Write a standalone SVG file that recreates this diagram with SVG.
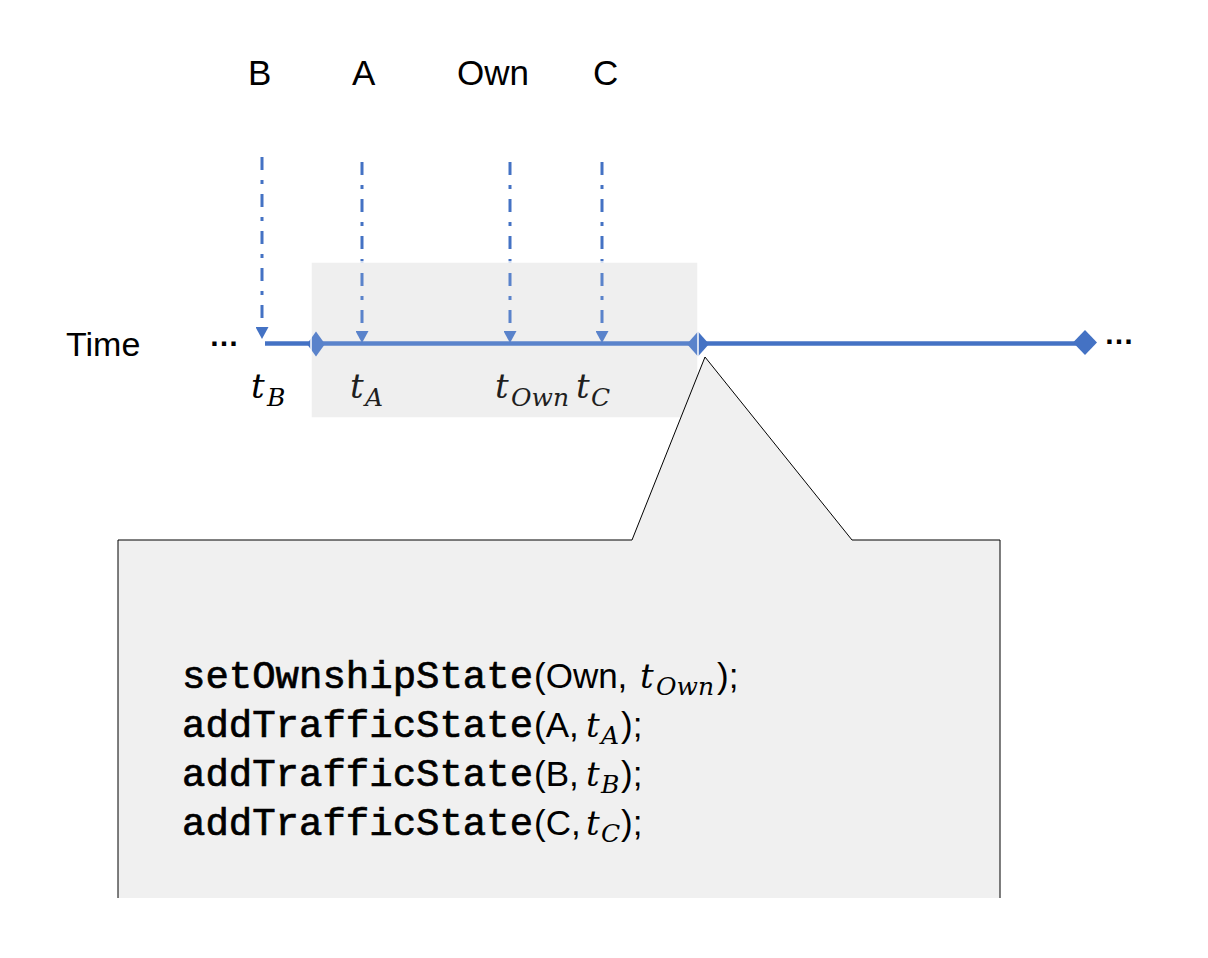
<svg xmlns="http://www.w3.org/2000/svg" width="1208" height="958" viewBox="0 0 1208 958">
<style>
.lbl{font-family:"Liberation Sans",Arial,sans-serif;font-size:35px;fill:#000}
.sans{font-family:"Liberation Sans",Arial,sans-serif;font-size:35px;fill:#000}
.dots{font-family:"Liberation Sans",Arial,sans-serif;font-size:30px;font-weight:bold;fill:#000}
.mono{font-family:"Liberation Mono","Courier New",monospace;font-size:39px;fill:#000;stroke:#000;stroke-width:0.7}
.mt{font-family:"DejaVu Serif","Liberation Serif",serif;font-style:italic;font-size:34px;fill:#000}
.ms{font-family:"DejaVu Serif","Liberation Serif",serif;font-style:italic;font-size:25px;fill:#000}
.dd{stroke:#4472C4;stroke-width:3;fill:none;stroke-dasharray:13 10 4 10}
.axis{stroke:#4472C4;stroke-width:4.5;fill:none}
.dia{fill:#4472C4}
</style>
<defs>
<marker id="ah" markerUnits="userSpaceOnUse" viewBox="0 0 12 13" refX="12" refY="6.5" markerWidth="12" markerHeight="13" orient="auto">
<path d="M0,0 L12,6.5 L0,13 z" fill="#4472C4"/>
</marker>
</defs>
<rect id="window" x="311" y="262" width="387" height="156" fill="#ededed"/>
<g id="labels">
<text class="lbl" x="248" y="85">B</text>
<text class="lbl" x="352" y="85">A</text>
<text class="lbl" x="457" y="85">Own</text>
<text class="lbl" x="593" y="85">C</text>
<text class="lbl" x="66" y="356" style="font-size:34px">Time</text>
<text class="dots" x="209" y="346">…</text>
<text class="dots" x="1104" y="344">…</text>
</g>
<g id="axis">
<line class="axis" x1="265" y1="343.5" x2="1085" y2="343.5"/>
<polygon class="dia" points="316,331.5 325,344 316,356.5 307,344"/>
<polygon class="dia" points="698,331.5 709,344 698,356.5 687,344"/>
<polygon class="dia" points="1085,330 1097,342.5 1085,355 1073,342.5"/>
</g>
<g id="connectors">
<line class="dd" x1="262" y1="157" x2="262" y2="339" marker-end="url(#ah)"/>
<line class="dd" x1="362" y1="162" x2="362" y2="343" marker-end="url(#ah)"/>
<line class="dd" x1="510" y1="162" x2="510" y2="343" marker-end="url(#ah)"/>
<line class="dd" x1="602" y1="162" x2="602" y2="343" marker-end="url(#ah)"/>
</g>
<g id="time-labels">
<text class="mt" x="251" y="398">t</text><text class="ms" x="267" y="406">B</text>
<text class="mt" x="350" y="398">t</text><text class="ms" x="365" y="406">A</text>
<text class="mt" x="495" y="398">t</text><text class="ms" x="511" y="406">Own</text>
<text class="mt" x="576" y="398">t</text><text class="ms" x="591" y="406">C</text>
</g>
<rect id="window-overlay" x="311" y="262" width="387" height="156" fill="#ffffff" fill-opacity="0.12" stroke="#ffffff" stroke-width="1.5"/>
<g id="callout">
<path d="M118,898 L118,540 L632,540 L705,357 L852,540 L1000,540 L1000,898" fill="#f0f0f0" stroke="#000" stroke-width="1"/>
<text class="mono" x="182" y="688">setOwnshipState</text><text class="sans" x="534" y="688">(Own,</text><text class="mt" x="640" y="688">t</text><text class="ms" x="656" y="695">Own</text><text class="sans" x="717" y="688">);</text>
<text class="mono" x="182" y="737">addTrafficState</text><text class="sans" x="534" y="737">(A,</text><text class="mt" x="586" y="737">t</text><text class="ms" x="601" y="744">A</text><text class="sans" x="621" y="737">);</text>
<text class="mono" x="182" y="786">addTrafficState</text><text class="sans" x="534" y="786">(B,</text><text class="mt" x="586" y="786">t</text><text class="ms" x="601" y="793">B</text><text class="sans" x="621" y="786">);</text>
<text class="mono" x="182" y="835">addTrafficState</text><text class="sans" x="534" y="835">(C,</text><text class="mt" x="586" y="835">t</text><text class="ms" x="601" y="842">C</text><text class="sans" x="621" y="835">);</text>
</g>
</svg>
